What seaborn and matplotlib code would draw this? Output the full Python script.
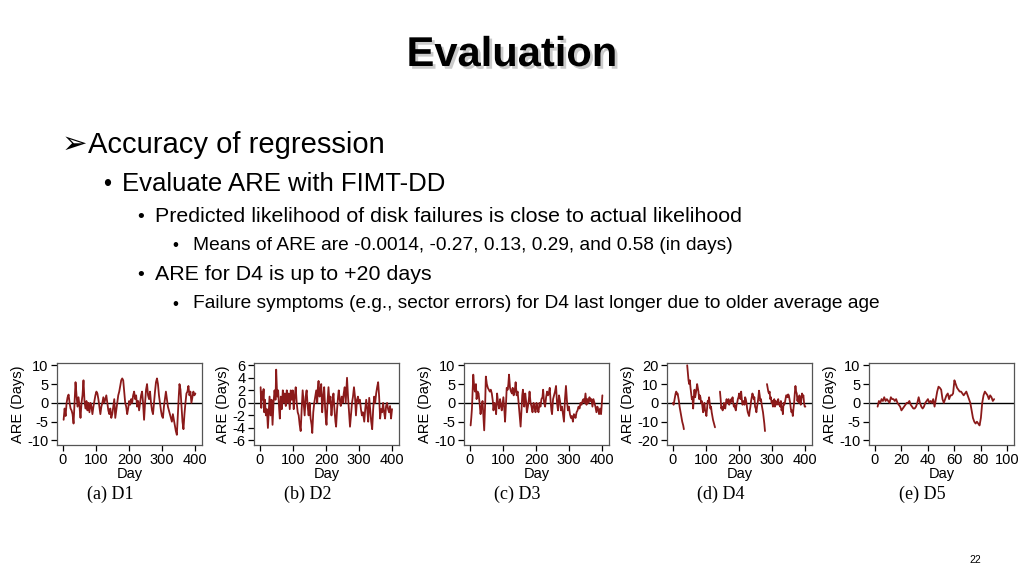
import numpy as np
import pandas as pd
import seaborn as sns
import matplotlib.pyplot as plt
import matplotlib.patheffects as pe

# ---- data (ARE in days vs. day index) ----
d1_day = [2, 5, 8, 11, 14, 17, 20, 23, 26, 29,
          32, 35, 38, 41, 44, 47, 50, 53, 56, 59,
          62, 65, 68, 71, 74, 77, 80, 83, 86, 89,
          92, 95, 98, 101, 104, 107, 110, 113, 116, 119,
          122, 125, 128, 131, 134, 137, 140, 143, 146, 149,
          152, 155, 158, 161, 164, 167, 170, 173, 176, 179,
          182, 185, 188, 191, 194, 197, 200, 203, 206, 209,
          212, 215, 218, 221, 224, 227, 230, 233, 236, 239,
          242, 245, 248, 251, 254, 257, 260, 263, 266, 269,
          272, 275, 278, 281, 284, 287, 290, 293, 296, 299,
          302, 305, 308, 311, 314, 317, 320, 323, 326, 329,
          332, 335, 338, 341, 344, 347, 350, 352, 355, 358,
          361, 364, 367, 370, 373, 376, 379, 382, 385, 388,
          391, 394, 397, 400]
d1_are = [-4.5, -1.5, -3.5, 0, 1.5, 2.2, 0, -1.5, -2, -3,
          -5.5, 0, 5.5, 2, -1, 1.5, -1, -4, 0, 2,
          6, 0.5, -1.5, 0.5, -2, 0, -2.5, 0, -1, -3,
          -1, 0.5, 2, 3, 2.5, 1, -1, -3, -1, 0,
          1.5, 0, 1, 2, 0, -2, -3, -1.5, -4, -3,
          -1, 1, -4, -2, 0, 2, 3, 4.5, 6, 6.5,
          6, 3, 0, -1, -3, -1.5, 0.5, -0.5, 1, 0,
          2, 3, 1, 2, -1, 0.5, -2, 0, 2, 3,
          0, -4.5, 0, 3.5, 5, 2, 1, 3, 0, -2,
          -3, 0, 3, 5.5, 6.5, 5, 2, 0, -2, -3.5,
          -4, -1, 1, 3, 1, -1, -2, -3, -4, -5,
          -3, -4.5, -6, -7.5, -8.5, -3, 2, 5, 3.5, -1,
          -5, -7, -3, 0, 2.5, 3, 4.5, 2, 3, 0,
          1.5, 3, 2, 2.5]

d2_day = [2, 4, 6, 9, 11, 13, 15, 18, 21, 24,
          27, 29, 32, 35, 38, 41, 44, 47, 49, 52,
          55, 58, 60, 63, 66, 69, 72, 75, 78, 81,
          84, 87, 90, 93, 96, 99, 102, 105, 108, 111,
          114, 117, 120, 123, 126, 129, 132, 135, 138, 141,
          144, 147, 150, 153, 156, 158, 161, 164, 167, 170,
          173, 175, 177, 180, 183, 185, 188, 191, 194, 197,
          199, 201, 204, 207, 210, 213, 216, 219, 222, 225,
          228, 230, 233, 236, 238, 241, 244, 247, 250, 253,
          256, 259, 261, 263, 266, 269, 272, 275, 278, 281,
          284, 287, 290, 293, 296, 299, 302, 305, 308, 311,
          315, 318, 321, 324, 327, 330, 333, 336, 339, 342,
          345, 348, 351, 354, 357, 360, 363, 366, 369, 372,
          375, 378, 381, 384, 387, 390, 393, 396, 399]
d2_are = [2.5, -0.8, 1.8, 0.5, 2.2, -1.5, 0.5, -2, -1, -4,
          -1, 1, -2, 0.5, -3.5, 0, 2, 0.5, 5.3, 1,
          2, -1, -2.5, 1, -1, 2, 0, 1.5, -0.5, 2,
          0, 1.5, -1, 2, 0.5, 2, -1, 1, 2.5, 0,
          -1.5, -2, -3.5, -4.5, -1, 2, 0, -2, 1, 2,
          -0.5, -2, 0, -2.5, -3.5, -4.8, -1.5, 0, 1, 2,
          0, 2.5, 3.5, 1, 2, 3, -1.5, 1, 2.5, -1,
          -2.5, -3.5, 0, 2.5, 0, 1, -2, 0, 1.5, -1,
          -3, -3.8, -1, 1, 2, 0.5, -0.5, 1, 0, 1.5,
          2.5, 0, 2, 4, 1, -1.5, -3.8, -2, 0, 1,
          2.5, 1, -2, 0.5, 1, 0, 0.5, -1, -2, -1.5,
          -3, -1, 0.5, -1, -3, 0.8, -1, -3, -4.2, -1,
          1, 0, 1.5, 2.5, 3.3, 1, -2.5, -1, -1.5, 0,
          -1.5, -2.5, -0.5, 0, -1, -1.5, -0.5, -2.5, -1]

d3_day = [2, 4, 6, 8, 10, 13, 15, 18, 20, 23,
          26, 29, 32, 35, 38, 41, 43, 46, 48, 51,
          54, 57, 60, 63, 66, 69, 71, 74, 77, 79,
          82, 85, 88, 91, 94, 96, 99, 101, 104, 106,
          109, 111, 114, 116, 118, 121, 124, 127, 129, 132,
          135, 138, 141, 144, 147, 149, 151, 153, 156, 158,
          160, 162, 164, 167, 170, 172, 175, 178, 180, 183,
          186, 189, 192, 195, 198, 201, 204, 207, 210, 213,
          216, 219, 221, 224, 227, 230, 233, 236, 239, 241,
          244, 246, 248, 251, 254, 257, 260, 263, 266, 269,
          272, 275, 278, 281, 284, 287, 290, 293, 296, 299,
          302, 305, 308, 311, 314, 317, 319, 322, 325, 328,
          331, 334, 337, 340, 343, 346, 349, 352, 355, 358,
          361, 364, 367, 370, 373, 376, 379, 382, 385, 388,
          390, 393, 396, 398, 400]
d3_are = [-6, -4, -1.5, 3, 7.5, 4, 3, 5, 1, 3,
          2.5, 0, -3, -1, 0.5, -4, -7.3, 0, 7, 5,
          4, 3.5, 3, 3.5, 2.5, 0.5, -2, 0, -1, -3,
          2.5, 0, -1.5, 1, -1, -2, 0, 1.5, -2, -5,
          0, 4, 3.5, 5, 7.5, 4, 3, 2.5, 4, 2,
          3, 5.5, 2, 3, 0, -2, -4, -6.3, -1, 2,
          3.5, 1, -1, 2.5, 0, -2.5, -1, 1, 3, 0,
          -1, -2.5, 0, -1, -2.5, 0, -1.5, -2.5, 0, -1,
          1, 1.5, 3.5, 0, -1, 1.5, 3, 2, 3, 4,
          0, -2, -3, 1, 2, 3, 4.5, 0, -2, 2,
          0.5, -2, -1, -3, -5, 1, 4.5, 0.5, -2, -1,
          -3, -4, -3.5, -5, -3, -3.5, -4, -2.5, -2, -1,
          -1.5, 0, -0.5, 0.5, 1, 0, 2.5, -0.5, 1, 0,
          1.5, 0.5, 1, -1, 1, 0, -1, -2.5, -1, -2,
          -3, -1.5, -3, -0.5, 2]

# D4 has gaps: four separate runs
d4_day = ([0, 2, 4, 6, 8, 10, 12, 14, 16, 18, 20, 22, 25, 28, 31, 33]
          + list(range(43, 122, 2)) + [124, 127]
          + list(range(142, 279, 2))
          + list(range(284, 401, 2)))
d4_are = [0, -1, 1, 3, 5, 6, 4.5, 5, 3, 1, -2, -4, -7, -10, -12, -14,
          20, 16, 12, 10, 12, 8, 5, 2, 3, -3, 3, 7, 3, 5, 7, 10, 8, 6, 2, 4,
          3, 0, 1, -2, -5, -3, 0, -4, -5, -7, -3, 1, 0, 3, 0, -3, -2, -5, -7, -9,
          -11, -13,
          6, 2, -3, -2, -4, -3, 0, -2, -3, 0, 2, 0, 1, 2, -1, 1, 0, 2, 1, 3,
          0, -2, -1, -3, -4, -1, 0, 2, 3, 5, 3, 2, 6, 2, -1, 0, 1, -1, 3, 2,
          0, -3, -5, -6, -7, -4, -2, 1, 3, 5, 4, 2, 3, -2, -3, -5, -2, 0, 3, 6.5,
          4, 1, 2, -1, -3, -5, -8, -11, -15,
          10, 8, 6, 5, 6, 2, 3, 0, 1, -2, 0, 2, -2, 1, 0, -1, 1, 2, -1, 0,
          -2, 1, -4, -2, -6, 0, -1, 0, 2, 4, 4, 3, 4.5, 4, 2, 0, -3, -5, -4, -7,
          -3, 0, 5, 9, 6, 5, 1, 3, 0, 4, 2, -1, 2, 5, 3, 4, 0, -2, -2]
d4_run_starts = [43, 142, 284]

d5_day = list(range(2, 91))
d5_are = [-1, 0.5, 0, 1, 0.5, 1.5, 0.5, 1, 0.5, 0,
          1.5, 1, 1, 0.5, 1, 0, -0.5, -1, -2, -1.5,
          -1, -0.5, 0, 0, 0.5, -0.5, -1, -1.5, -1.5, -1,
          0, 1.5, 0, -1, -1.5, -1, 0, 0.5, 1, 0,
          0.5, 0, 1, -1, 1, 3, 4.3, 4, 3.5, 1,
          0, 1, 2, 2.5, 1, 2, 2, 2.5, 6, 5,
          4, 3.5, 3, 3, 2.5, 2, 2.5, 3, 2, 1,
          0, -2, -4, -5, -5.5, -5, -5.5, -6, -4, 0,
          2, 3, 2.5, 2, 1, 2, 1.5, 0.5, 1]

captions = ["(a) D1", "(b) D2", "(c) D3", "(d) D4", "(e) D5"]
yticks = [[-10, -5, 0, 5, 10], [-6, -4, -2, 0, 2, 4, 6], [-10, -5, 0, 5, 10],
          [-20, -10, 0, 10, 20], [-10, -5, 0, 5, 10]]
xticks = [[0, 100, 200, 300, 400]] * 4 + [[0, 20, 40, 60, 80, 100]]

bullets = [
    (1, "Accuracy of regression"),
    (2, "Evaluate ARE with FIMT-DD"),
    (3, "Predicted likelihood of disk failures is close to actual likelihood"),
    (4, "Means of ARE are -0.0014, -0.27, 0.13, 0.29, and 0.58 (in days)"),
    (3, "ARE for D4 is up to +20 days"),
    (4, "Failure symptoms (e.g., sector errors) for D4 last longer due to older average age"),
]

# ---- frames ----
frames = [
    pd.DataFrame({"Day": d1_day, "ARE": d1_are, "run": 0}),
    pd.DataFrame({"Day": d2_day, "ARE": d2_are, "run": 0}),
    pd.DataFrame({"Day": d3_day, "ARE": d3_are, "run": 0}),
    pd.DataFrame({"Day": d4_day, "ARE": d4_are,
                  "run": np.searchsorted(d4_run_starts, d4_day, side="right")}),
    pd.DataFrame({"Day": d5_day, "ARE": d5_are, "run": 0}),
]

sns.set_style("ticks")
plt.rcParams["font.family"] = ["Liberation Sans", "DejaVu Sans"]
plt.rcParams["text.color"] = "black"
plt.rcParams["axes.labelcolor"] = "black"
plt.rcParams["axes.unicode_minus"] = False

W, H = 1024, 576
fig = plt.figure(figsize=(W / 100, H / 100), dpi=100)

# slide text
fig.text(0.5, 1 - 55 / H, "Evaluation", ha="center", va="center",
         fontsize=30, fontweight="bold", color="black",
         path_effects=[pe.SimplePatchShadow(offset=(2, -2), shadow_rgbFace="#999999", alpha=0.5),
                       pe.Normal()])

# level: (bullet x, text x, font size)
levels = {1: (62, 88, 21), 2: (103, 122, 18.5), 3: (137, 155, 15.4), 4: (172, 193, 13.75)}
line_y = [145, 184, 217, 246, 275, 304]
for (lvl, txt), y in zip(bullets, line_y):
    bx, tx, fs = levels[lvl]
    mark = "\u27a2" if lvl == 1 else "\u2022"
    fig.text(bx / W, 1 - y / H, mark, ha="left", va="center",
             fontsize=fs + 1 if lvl == 1 else fs * 0.9)
    fig.text(tx / W, 1 - y / H, txt, ha="left", va="center", fontsize=fs)

fig.text(975 / W, 1 - 560 / H, "22", ha="center", va="center", fontsize=7.5)

# charts
lefts = [57, 254, 464, 667, 869]
ax_w, ax_top, ax_bot = 145, 363, 445
for i, df in enumerate(frames):
    ax = fig.add_axes([lefts[i] / W, 1 - ax_bot / H, ax_w / W, (ax_bot - ax_top) / H])
    ax.axhline(0, color="black", lw=1.0, zorder=1)
    sns.lineplot(data=df, x="Day", y="ARE", units="run", estimator=None,
                 color="#8b1a1a", lw=1.3, ax=ax, legend=False, zorder=2)
    yt = yticks[i]
    span = yt[-1] - yt[0]
    ax.set_ylim(yt[0] - 0.06 * span, yt[-1] + 0.03 * span)
    ax.set_yticks(yt)
    xt = xticks[i]
    xspan = xt[-1] - xt[0]
    ax.set_xlim(xt[0] - 0.045 * xspan, xt[-1] + 0.05 * xspan)
    ax.set_xticks(xt)
    for s in ax.spines.values():
        s.set_visible(True)
        s.set_color("#555555")
        s.set_linewidth(0.9)
    ax.tick_params(labelsize=10.5, length=4, width=0.9, pad=2, colors="black")
    ax.set_xlabel("Day", fontsize=10.5, labelpad=0)
    ax.set_ylabel("ARE (Days)", fontsize=10.5, labelpad=2)
    cx = (lefts[i] + ax_w / 2 - 19) / W
    fig.text(cx, 1 - 494 / H, captions[i], ha="center", va="center",
             fontsize=13, family="Liberation Serif")

fig.savefig("out.png", dpi=100, facecolor="white")
